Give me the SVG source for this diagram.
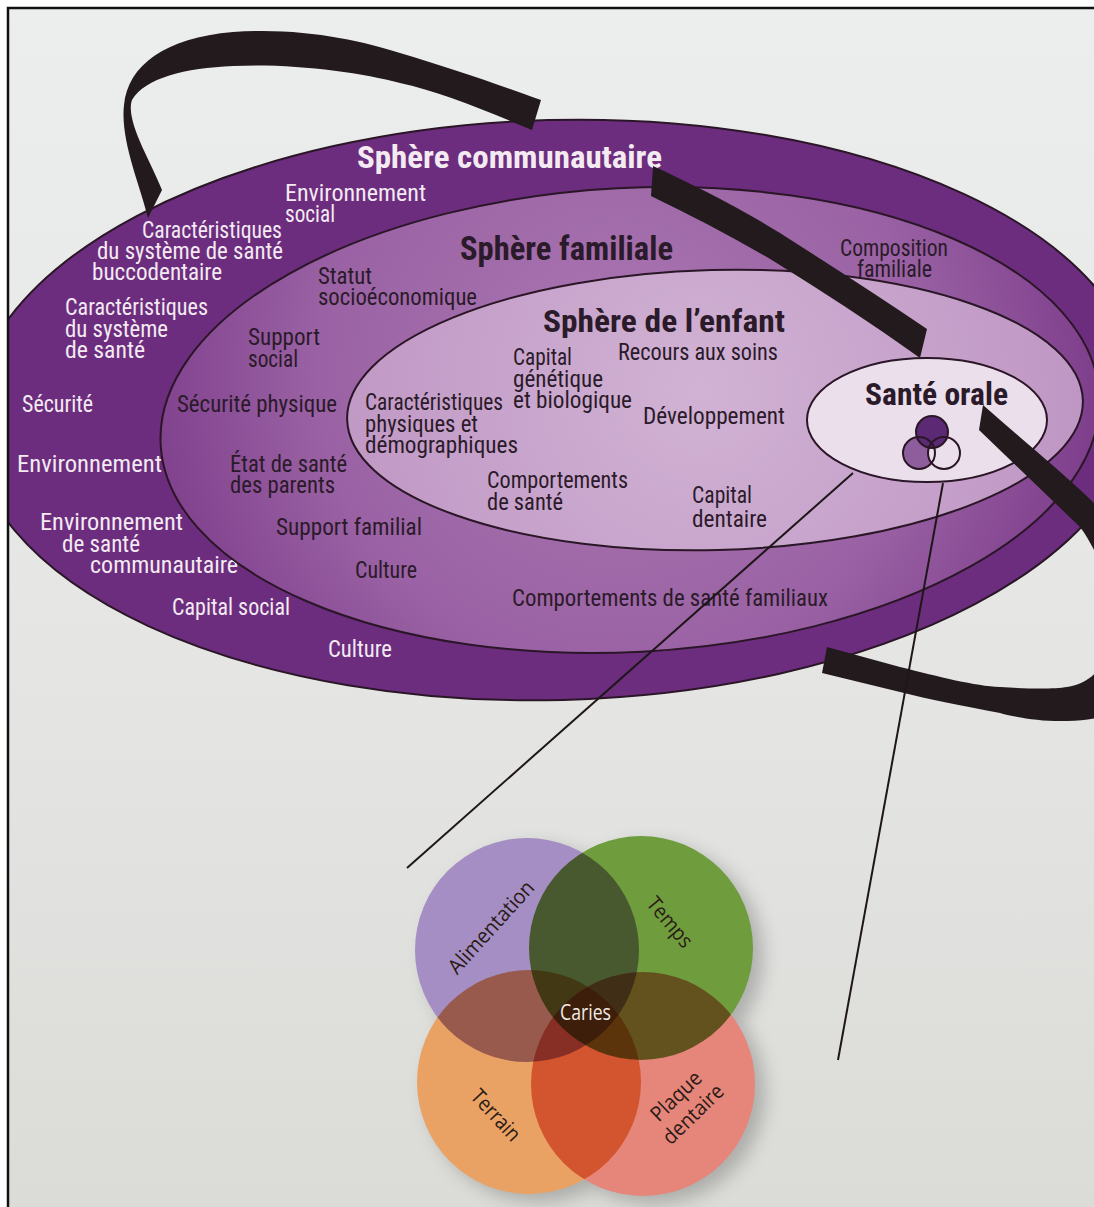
<svg xmlns="http://www.w3.org/2000/svg" width="1094" height="1207" viewBox="0 0 1094 1207">
<defs>
<linearGradient id="page" x1="0" y1="0" x2="0" y2="1">
<stop offset="0" stop-color="#eceeed"/>
<stop offset="0.6" stop-color="#e4e5e3"/>
<stop offset="1" stop-color="#dbdbd7"/>
</linearGradient>
<radialGradient id="gMid" gradientUnits="userSpaceOnUse" cx="620" cy="370" r="500">
<stop offset="0" stop-color="#aa77b1"/>
<stop offset="0.6" stop-color="#9a62a4"/>
<stop offset="1" stop-color="#7b3a89"/>
</radialGradient>
<radialGradient id="gIn" gradientUnits="userSpaceOnUse" cx="700" cy="390" r="380">
<stop offset="0" stop-color="#d1b2d4"/>
<stop offset="1" stop-color="#bf97c4"/>
</radialGradient>
<filter id="blur" x="-30%" y="-30%" width="160%" height="160%">
<feGaussianBlur stdDeviation="9"/>
</filter>
<clipPath id="pageClip"><rect x="8" y="8" width="1090" height="1203"/></clipPath>
<style>
.ring{stroke:#2a1626;stroke-width:2}
.band{fill:#221a1c}
.t{font-family:"Liberation Sans Narrow","Roboto Condensed","DejaVu Sans Condensed","Liberation Sans",sans-serif;font-size:23px}
.w{fill:#f3eaf2}
.d{fill:#2b1a29}
.h{font-family:"Liberation Sans Narrow","Roboto Condensed","DejaVu Sans Condensed","Liberation Sans",sans-serif;font-weight:bold;font-size:31px}
.v{font-family:"Open Sans","Noto Sans","Liberation Sans",sans-serif;font-size:21px;fill:#2a1a16}
.vc{stroke:none}
.lead{stroke:#1e1618;stroke-width:2;fill:none}
</style>
</defs>

<rect x="0" y="0" width="1094" height="1207" fill="#ffffff"/>
<rect x="8" y="8" width="1090" height="1203" fill="url(#page)"/>

<g clip-path="url(#pageClip)">
<g id="sphere-communautaire">
<ellipse class="ring" cx="556" cy="410" rx="585" ry="290" fill="#6d2d7e" transform="rotate(-1.5 556 410)"/>
<text class="h w" x="357" y="168" textLength="305" lengthAdjust="spacingAndGlyphs">Sphère communautaire</text>
<text class="t w" x="285" y="201" textLength="141" lengthAdjust="spacingAndGlyphs">Environnement</text>
<text class="t w" x="285" y="222" textLength="50" lengthAdjust="spacingAndGlyphs">social</text>
<text class="t w" x="142" y="238" textLength="140" lengthAdjust="spacingAndGlyphs">Caractéristiques</text>
<text class="t w" x="97" y="259" textLength="186" lengthAdjust="spacingAndGlyphs">du système de santé</text>
<text class="t w" x="92" y="280" textLength="130" lengthAdjust="spacingAndGlyphs">buccodentaire</text>
<text class="t w" x="65" y="315" textLength="143" lengthAdjust="spacingAndGlyphs">Caractéristiques</text>
<text class="t w" x="65" y="337" textLength="103" lengthAdjust="spacingAndGlyphs">du système</text>
<text class="t w" x="65" y="358" textLength="80" lengthAdjust="spacingAndGlyphs">de santé</text>
<text class="t w" x="22" y="412" textLength="71" lengthAdjust="spacingAndGlyphs">Sécurité</text>
<text class="t w" x="17" y="472" textLength="145" lengthAdjust="spacingAndGlyphs">Environnement</text>
<text class="t w" x="40" y="530" textLength="143" lengthAdjust="spacingAndGlyphs">Environnement</text>
<text class="t w" x="62" y="552" textLength="78" lengthAdjust="spacingAndGlyphs">de santé</text>
<text class="t w" x="90" y="573" textLength="148" lengthAdjust="spacingAndGlyphs">communautaire</text>
<text class="t w" x="172" y="615" textLength="118" lengthAdjust="spacingAndGlyphs">Capital social</text>
<text class="t w" x="328" y="657" textLength="64" lengthAdjust="spacingAndGlyphs">Culture</text>
</g>

<g id="sphere-familiale">
<ellipse class="ring" cx="630" cy="420" rx="470" ry="232" fill="url(#gMid)" transform="rotate(-3 630 420)"/>
<text class="h d" x="460" y="260" style="font-size:33px" textLength="213" lengthAdjust="spacingAndGlyphs">Sphère familiale</text>
<text class="t d" x="318" y="284" textLength="54" lengthAdjust="spacingAndGlyphs">Statut</text>
<text class="t d" x="318" y="305" textLength="159" lengthAdjust="spacingAndGlyphs">socioéconomique</text>
<text class="t d" x="248" y="345" textLength="72" lengthAdjust="spacingAndGlyphs">Support</text>
<text class="t d" x="248" y="367" textLength="50" lengthAdjust="spacingAndGlyphs">social</text>
<text class="t d" x="177" y="412" textLength="160" lengthAdjust="spacingAndGlyphs">Sécurité physique</text>
<text class="t d" x="230" y="472" textLength="117" lengthAdjust="spacingAndGlyphs">État de santé</text>
<text class="t d" x="230" y="493" textLength="105" lengthAdjust="spacingAndGlyphs">des parents</text>
<text class="t d" x="276" y="535" textLength="146" lengthAdjust="spacingAndGlyphs">Support familial</text>
<text class="t d" x="355" y="578" textLength="62" lengthAdjust="spacingAndGlyphs">Culture</text>
<text class="t d" x="840" y="256" textLength="108" lengthAdjust="spacingAndGlyphs">Composition</text>
<text class="t d" x="857" y="277" textLength="75" lengthAdjust="spacingAndGlyphs">familiale</text>
<text class="t d" x="512" y="606" textLength="316" lengthAdjust="spacingAndGlyphs">Comportements de santé familiaux</text>
</g>

<g id="sphere-enfant">
<ellipse class="ring" cx="715" cy="410" rx="368" ry="140" fill="url(#gIn)" transform="rotate(-1.5 715 410)"/>
<text class="h d" x="543" y="332" textLength="242" lengthAdjust="spacingAndGlyphs">Sphère de l’enfant</text>
<text class="t d" x="513" y="365" textLength="59" lengthAdjust="spacingAndGlyphs">Capital</text>
<text class="t d" x="513" y="387" textLength="90" lengthAdjust="spacingAndGlyphs">génétique</text>
<text class="t d" x="513" y="408" textLength="119" lengthAdjust="spacingAndGlyphs">et biologique</text>
<text class="t d" x="618" y="360" textLength="160" lengthAdjust="spacingAndGlyphs">Recours aux soins</text>
<text class="t d" x="365" y="410" textLength="138" lengthAdjust="spacingAndGlyphs">Caractéristiques</text>
<text class="t d" x="365" y="432" textLength="113" lengthAdjust="spacingAndGlyphs">physiques et</text>
<text class="t d" x="365" y="453" textLength="153" lengthAdjust="spacingAndGlyphs">démographiques</text>
<text class="t d" x="643" y="424" textLength="142" lengthAdjust="spacingAndGlyphs">Développement</text>
<text class="t d" x="487" y="488" textLength="141" lengthAdjust="spacingAndGlyphs">Comportements</text>
<text class="t d" x="487" y="510" textLength="76" lengthAdjust="spacingAndGlyphs">de santé</text>
<text class="t d" x="692" y="503" textLength="60" lengthAdjust="spacingAndGlyphs">Capital</text>
<text class="t d" x="692" y="527" textLength="75" lengthAdjust="spacingAndGlyphs">dentaire</text>
</g>

<g id="sante-orale">
<ellipse class="ring" cx="927" cy="420" rx="120" ry="62" fill="#ecdfec"/>
<text class="h d" x="865" y="405" textLength="143" lengthAdjust="spacingAndGlyphs">Santé orale</text>
<circle cx="919" cy="453" r="16" fill="#8e5e9c"/>
<circle cx="944" cy="453" r="16" fill="#ecdfec"/>
<circle cx="932" cy="432" r="16" fill="#5c2a74"/>
<g fill="none" stroke="#2a1626" stroke-width="2">
<circle cx="919" cy="453" r="16"/>
<circle cx="944" cy="453" r="16"/>
<circle cx="932" cy="432" r="16"/>
</g>
</g>

<g id="connectors">
<path class="band" d="M148,218 C140,185 120,140 124,105 C128,65 165,38 233,32 C300,27 360,40 400,53 C450,68 500,85 541,100 L532,130 C480,108 440,92 400,83 C360,72 290,63 233,66 C185,68 145,78 132,100 C125,120 150,160 162,190 Z"/>
<path class="band" d="M653,166 C690,183 740,208 780,233 C830,265 880,297 927,329 L920,358 C870,322 820,290 775,262 C735,238 690,215 651,196 Z"/>
<path class="band" d="M983,405 C1020,438 1060,470 1094,503 C1140,545 1175,640 1140,690 C1120,715 1100,720 1067,721 C1040,722 1010,716 1000,713 C960,705 930,700 900,692 L822,673 L827,647 L900,667 C940,677 975,686 1000,687 C1030,689 1055,689 1067,687 C1095,683 1110,660 1112,630 C1113,600 1104,568 1094,550 C1088,538 1083,531 1080,527 L979,430 Z"/>
<line class="lead" x1="853" y1="473" x2="407" y2="868"/>
<line class="lead" x1="943" y1="483" x2="838" y2="1060"/>
</g>

<g id="caries-venn">
<g filter="url(#blur)" opacity="0.35" transform="translate(10,8)">
<circle cx="527" cy="950" r="112" fill="#555"/>
<circle cx="641" cy="948" r="112" fill="#555"/>
<circle cx="529" cy="1082" r="112" fill="#555"/>
<circle cx="643" cy="1084" r="112" fill="#555"/>
</g>
<g style="isolation:isolate">
<circle class="vc" cx="527" cy="950" r="112" fill="#a58ec3"/>
<circle class="vc" cx="641" cy="948" r="112" fill="#6f9d3d" style="mix-blend-mode:multiply"/>
<circle class="vc" cx="529" cy="1082" r="112" fill="#e9a263" style="mix-blend-mode:multiply"/>
<circle class="vc" cx="643" cy="1084" r="112" fill="#e6857a" style="mix-blend-mode:multiply"/>
</g>
<text class="v" text-anchor="middle" transform="translate(491,927) rotate(-48)" dy="0.35em" textLength="117" lengthAdjust="spacingAndGlyphs">Alimentation</text>
<text class="v" text-anchor="middle" transform="translate(670,922) rotate(50)" dy="0.35em" textLength="59" lengthAdjust="spacingAndGlyphs">Temps</text>
<text class="v" text-anchor="middle" transform="translate(496,1115) rotate(47)" dy="0.35em" textLength="62" lengthAdjust="spacingAndGlyphs">Terrain</text>
<text class="v" text-anchor="middle" transform="translate(676,1096) rotate(-44)" dy="0.35em" textLength="62" lengthAdjust="spacingAndGlyphs">Plaque</text>
<text class="v" text-anchor="middle" transform="translate(693,1114) rotate(-44)" dy="0.35em" textLength="76" lengthAdjust="spacingAndGlyphs">dentaire</text>
<text class="v" x="560" y="1020" style="fill:#f2ebe4" textLength="51" lengthAdjust="spacingAndGlyphs">Caries</text>
</g>
</g>

<path d="M8,1207 V8 H1094" fill="none" stroke="#111" stroke-width="2.5"/>
</svg>
